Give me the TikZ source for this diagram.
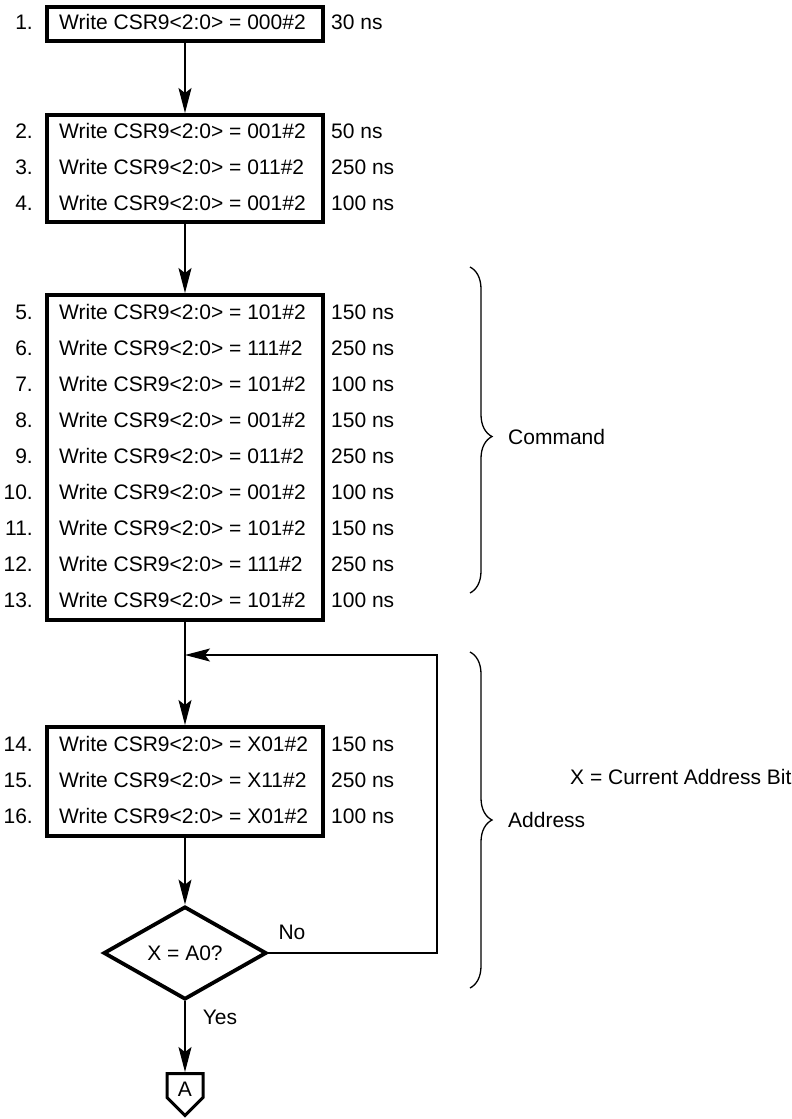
\documentclass[tikz,border=0pt]{standalone}
\usepackage{fontspec}
\setmainfont{Liberation Sans}
\usetikzlibrary{shapes.geometric,arrows.meta,decorations.pathreplacing,calc}
\begin{document}
\begin{tikzpicture}[x=1pt,y=-1pt,
  font=\fontsize{21}{25}\selectfont,
  stepbox/.style={draw, line width=3.8pt, minimum width=276.2pt, inner sep=0pt},
  lbl/.style={inner sep=0pt},
  num/.style={lbl, anchor=base east},
  cmd/.style={lbl, anchor=base west},
  dur/.style={lbl, anchor=base west},
  arr/.style={line width=1.3pt, -{Stealth[length=25pt,width=13pt,inset=5pt]}},
  brc/.style={line width=1.3pt, decorate, decoration={brace, amplitude=22pt}}]
\useasboundingbox (0,0) rectangle (792,1119);

% boxes
\node[stepbox, minimum height=34.2pt]  (b1) at (185,24)    {};
\node[stepbox, minimum height=107.2pt] (b2) at (185,168.5) {};
\node[stepbox, minimum height=325.2pt] (b3) at (185,457.5) {};
\node[stepbox, minimum height=109.2pt] (b4) at (185,781.5) {};

% rows
\foreach \nn/\vv/\tt/\yy in {1/000/30/29.5,
  2/001/50/138.5, 3/011/250/174.5, 4/001/100/210.5,
  5/101/150/319.5, 6/111/250/355.5, 7/101/100/391.5, 8/001/150/427.5,
  9/011/250/463.5, 10/001/100/499.5, 11/101/150/535.5, 12/111/250/571.5,
  13/101/100/607.5,
  14/X01/150/751.5, 15/X11/250/787.5, 16/X01/100/823.5}{
  \node[num] (n\nn) at (33,\yy) {\nn.};
  \node[cmd] (c\nn) at (59,\yy) {Write CSR9<2:0> = \vv\#2};
  \node[dur] (d\nn) at (331,\yy) {\tt\ ns};
}

% decision
\node[draw, diamond, line width=3.8pt, minimum width=163pt, minimum height=93pt,
      inner sep=0pt] (dia) at (185,953) {X = A0?};
\node[lbl] (no)  at (292,932)  {No};
\node[lbl] (yes) at (220,1017) {Yes};

% off-page connector
\node[lbl] (A) at (185,1089) {A};
\coordinate (Atop) at (185,1072);
\draw[line width=3pt] (Atop) ++(-18,1.5) -- ++(36,0) -- ++(0,24) -- (185,1115.5)
      -- (167,1097.5) -- cycle;

% connectors
\draw[arr] (b1.south) -- (b2.north);
\draw[arr] (b2.south) -- (b3.north);
\draw[arr] (b3.south) -- (b4.north);
\draw[arr] (b4.south) -- (dia.north);
\draw[arr] (dia.south) -- (Atop);
\coordinate (lc) at (437,655);
\coordinate (j) at (185,655);
\draw[arr] (dia.east) -| (lc) -- (j);

% braces
\draw[brc, decoration={aspect=0.52}] (470,267) -- (470,593);
\node[lbl, anchor=west] (command) at (508,437) {Command};
\draw[brc] (470,652) -- (470,988);
\node[lbl, anchor=west] (address) at (508,820) {Address};
\node[lbl, anchor=west] (xnote) at (570,777) {X = Current Address Bit};
\end{tikzpicture}
\end{document}
